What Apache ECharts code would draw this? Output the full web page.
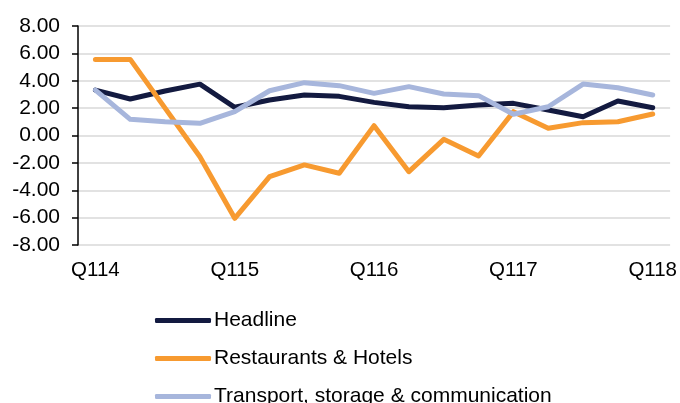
<!DOCTYPE html>
<html>
<head>
<meta charset="utf-8">
<script src="https://cdn.jsdelivr.net/npm/echarts@6/dist/echarts.min.js"></script>
<style>
  html, body { margin: 0; padding: 0; background: #fff; }
  #chart { width: 680px; height: 403px; }
</style>
</head>
<body>
<div id="chart"></div>
<script>
const quarters = ['Q114', 'Q214', 'Q314', 'Q414', 'Q115', 'Q215', 'Q315', 'Q415',
  'Q116', 'Q216', 'Q316', 'Q416', 'Q117', 'Q217', 'Q317', 'Q417', 'Q118']
const headline = [3.32, 2.67, 3.25, 3.75, 2.06, 2.59, 2.96, 2.86, 2.42, 2.1, 2.03, 2.23, 2.35, 1.86, 1.37, 2.52, 2.03]
const restaurants = [5.56, 5.56, 2.0, -1.55, -6.05, -3.01, -2.15, -2.76, 0.72, -2.64, -0.28, -1.5, 1.74, 0.53, 0.94, 1.0, 1.57]
const transport = [3.32, 1.18, 1.0, 0.89, 1.74, 3.27, 3.86, 3.64, 3.08, 3.57, 3.03, 2.91, 1.55, 2.1, 3.76, 3.49, 2.96]

const chart = echarts.init(document.getElementById('chart'))

const makeLine = (name, data, color) => ({
  name: name,
  type: 'line',
  data: data,
  symbol: 'none',
  color: color,
  lineStyle: { width: 5, color: color, cap: 'round', join: 'round' },
  emphasis: { disabled: true }
})

chart.setOption({
  animation: false,
  textStyle: { fontFamily: 'Liberation Sans, Arial, sans-serif' },
  grid: { left: 78, right: 9, top: 26, bottom: 158, containLabel: false },
  legend: {
    orient: 'vertical',
    left: 150,
    top: 305,
    height: 160,
    itemWidth: 56,
    itemHeight: 5,
    itemGap: 17,
    icon: 'roundRect',
    textStyle: { fontSize: 21, color: '#000', fontFamily: 'Liberation Sans, Arial, sans-serif', padding: [0, 0, 0, -2] },
    data: ['Headline', 'Restaurants & Hotels', 'Transport, storage & communication']
  },
  xAxis: {
    type: 'category',
    data: quarters,
    boundaryGap: true,
    axisLine: { show: false },
    axisTick: { show: false },
    axisLabel: { interval: 3, color: '#000', fontSize: 20.5, margin: 15 }
  },
  yAxis: {
    type: 'value',
    min: -8,
    max: 8,
    interval: 2,
    axisLine: { show: true, lineStyle: { color: '#000', width: 1.5 } },
    axisTick: { show: true, inside: false, length: 6, lineStyle: { color: '#000', width: 1.5 } },
    axisLabel: { color: '#000', fontSize: 21, margin: 18, formatter: v => v.toFixed(2) },
    splitLine: { show: true, lineStyle: { color: '#d9d9d9', width: 1.5 } }
  },
  series: [
    makeLine('Headline', headline, '#131a40'),
    makeLine('Restaurants & Hotels', restaurants, '#f79a30'),
    makeLine('Transport, storage & communication', transport, '#a7b6dc')
  ]
})
</script>
</body>
</html>
